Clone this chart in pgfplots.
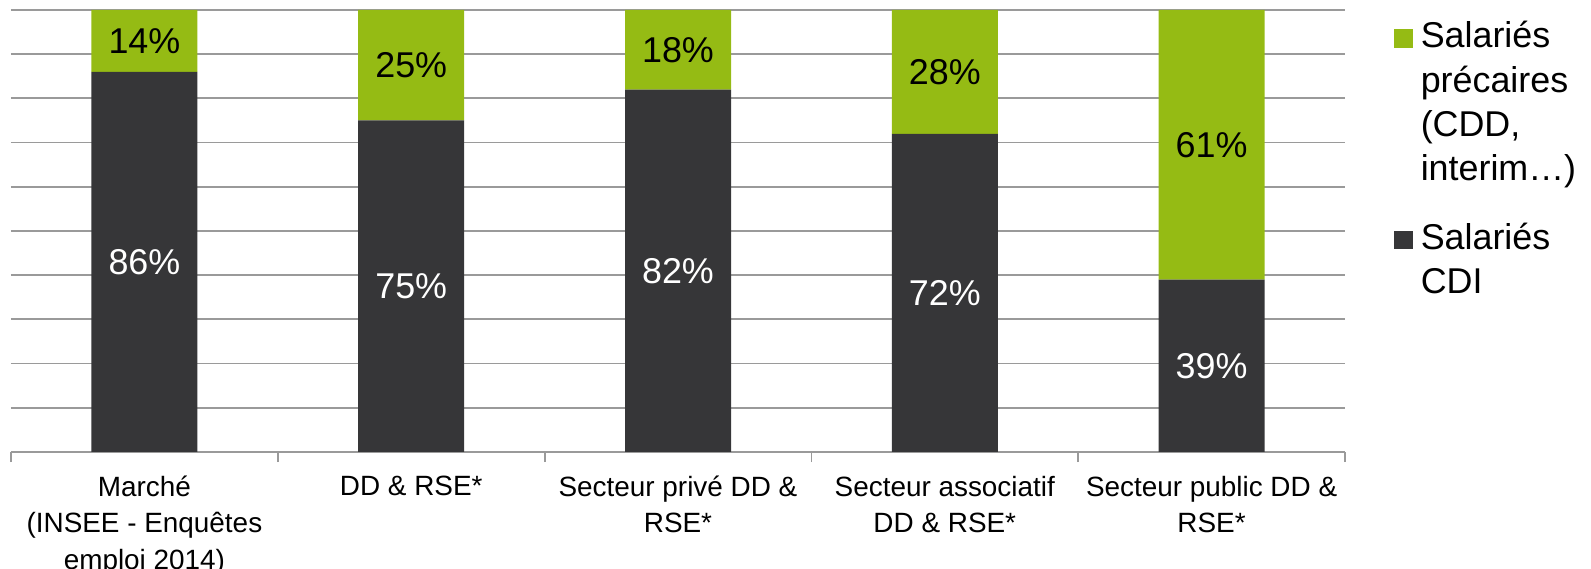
\documentclass[border=0pt]{standalone}
\usepackage{pgfplots}
\pgfplotsset{compat=1.18}
\usepackage{fontspec}
\setmainfont{Liberation Sans}
\definecolor{cgreen}{HTML}{95BB14}
\definecolor{cdark}{HTML}{363638}
\definecolor{cgrid}{HTML}{9A9A9A}
\begin{document}
\begin{tikzpicture}
\useasboundingbox (-5.5bp,-58.5bp) rectangle (790bp,226bp);
\begin{axis}[
  scale only axis, width=667bp, height=221bp,
  xmin=-0.5, xmax=4.5, ymin=0, ymax=100,
  enlargelimits=false,
  ybar stacked, bar width=53bp,
  axis x line*=bottom,
  x axis line style={draw=cgrid, line width=0.9bp},
  y axis line style={draw=none},
  ytick={0,10,...,100}, yticklabels={},
  ymajorgrids, major grid style={draw=cgrid, line width=0.9bp},
  major tick length=0pt,
  xtick={0,1,2,3,4},
  xticklabels={{Marché\\(INSEE - Enquêtes\\emploi 2014)},{DD \& RSE*\\},{Secteur privé DD \&\\RSE*},{Secteur associatif\\DD \& RSE*},{Secteur public DD \&\\RSE*}},
  xticklabel style={font=\fontsize{14}{18.25}\selectfont, align=center, inner sep=0pt, anchor=north, execute at begin node={\strut}, yshift=-11.7bp},
  extra x ticks={-0.5,0.5,1.5,2.5,3.5,4.5},
  extra x tick labels={},
  extra x tick style={major tick length=5bp, tick align=outside, grid=none, tick style={draw=cgrid, line width=0.9bp}},
  reverse legend,
  legend style={at={(1.0367,0.9756)}, anchor=north west, draw=none, fill=none, inner sep=0pt,
    font=\fontsize{18}{22.2}\selectfont, row sep=19.5bp, column sep=4bp,
    nodes={anchor=north west, align=left, inner sep=0pt}},
  legend image code/.code={\fill[#1] (0bp,-13.2bp) rectangle (9.2bp,-4bp);},
]
\addplot[fill=cdark, draw=none]
  coordinates {(0,86) (1,75) (2,82) (3,72) (4,39)};
\addlegendentry{Salariés\\CDI}
\addplot[fill=cgreen, draw=none]
  coordinates {(0,14) (1,25) (2,18) (3,28) (4,61)};
\addlegendentry{Salariés\\précaires\\(CDD,\\interim…)}
\end{axis}
\begin{axis}[
  scale only axis, width=667bp, height=221bp,
  xmin=-0.5, xmax=4.5, ymin=0, ymax=100,
  enlargelimits=false, hide axis,
  every node near coord/.append style={anchor=center, font=\fontsize{18}{21.6}\selectfont},
]
% labels at the middle of each segment
\addplot[draw=none, mark=none, nodes near coords, point meta=explicit symbolic,
  every node near coord/.append style={text=white}]
  coordinates {(0,43)[86\%] (1,37.5)[75\%] (2,41)[82\%] (3,36)[72\%] (4,19.5)[39\%]};
\addplot[draw=none, mark=none, nodes near coords, point meta=explicit symbolic,
  every node near coord/.append style={text=black}]
  coordinates {(0,93)[14\%] (1,87.5)[25\%] (2,91)[18\%] (3,86)[28\%] (4,69.5)[61\%]};
\end{axis}
\end{tikzpicture}
\end{document}
